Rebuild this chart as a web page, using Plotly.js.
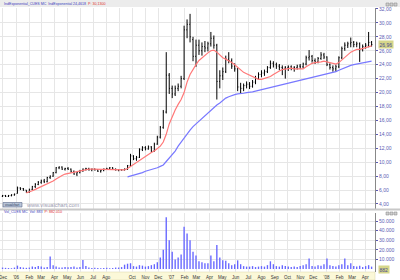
<!DOCTYPE html>
<html><head><meta charset="utf-8">
<script src="https://cdn.plot.ly/plotly-3.0.1.min.js"></script>
<style>html,body{margin:0;padding:0;background:#fff}#chart{width:400px;height:280px}</style>
</head><body><div id="chart"></div>
<script>
// weekly bars, first week centred on this date
const firstWeek = '2005-11-30';
const weekCount = 125;

const priceOpen = [5.1,5.2,5.1,5.2,5.3,5.5,6.3,6.2,6.0,5.7,
 6.1,6.5,6.8,7.1,7.3,7.2,7.8,8.0,8.5,9.2,
 9.3,9.0,9.1,9.0,8.7,8.3,8.5,8.8,9.0,9.1,
 8.9,9.0,8.9,8.7,8.8,9.0,9.1,9.2,9.0,8.9,
 8.9,8.9,9.0,9.5,10.9,10.5,10.7,11.8,12.1,11.9,
 12.2,11.6,12.6,13.6,15.0,17.2,22.5,20.6,19.8,20.6,
 20.9,22.0,29.0,29.8,27.6,25.2,26.8,26.0,26.6,26.4,
 27.0,27.8,26.8,21.6,22.4,23.0,24.8,24.6,23.8,23.4,
 20.8,20.6,21.0,21.2,20.9,21.5,22.0,22.6,22.8,23.0,
 23.6,24.2,24.0,23.8,23.6,23.5,23.6,23.7,23.5,23.6,
 23.8,23.7,24.1,25.0,25.2,24.6,24.4,24.9,25.4,25.1,
 24.0,23.6,23.4,23.7,25.0,26.3,26.8,27.0,27.2,26.9,
 27.0,26.2,26.6,26.8,27.2];
const priceHigh = [5.3,5.3,5.3,5.4,5.5,6.5,6.4,6.3,6.0,6.2,
 6.6,7.0,7.3,7.5,7.6,7.9,8.1,8.6,9.3,9.4,
 9.4,9.2,9.3,9.1,8.8,8.6,8.9,9.1,9.2,9.2,
 9.1,9.1,9.0,8.9,9.1,9.2,9.3,9.3,9.1,9.0,
 9.0,9.1,9.6,11.2,11.0,10.9,12.0,12.3,12.3,12.4,
 12.3,12.8,13.8,15.2,17.5,25.8,22.8,21.0,21.0,21.3,
 22.4,29.6,30.5,31.3,28.0,27.6,27.6,27.2,27.4,27.3,
 28.7,28.2,27.0,23.2,23.6,25.3,25.8,24.9,24.2,23.5,
 21.4,21.3,21.6,21.5,21.8,22.4,22.9,23.2,23.3,23.8,
 24.6,24.5,24.3,24.1,23.9,23.8,23.9,23.9,23.8,24.0,
 24.1,24.3,25.3,26.1,25.4,24.9,25.1,25.8,25.7,25.2,
 24.2,23.9,24.0,25.2,26.6,27.2,27.3,27.9,27.4,27.3,
 27.2,26.9,27.1,28.7,27.4];
const priceLow = [5.0,5.0,5.0,5.1,5.2,5.5,6.0,5.9,5.6,5.6,
 6.0,6.3,6.7,6.9,7.0,7.1,7.6,7.9,8.4,9.0,
 8.9,8.8,8.9,8.5,8.2,8.0,8.4,8.6,8.8,8.8,
 8.7,8.8,8.6,8.5,8.7,8.9,9.0,8.9,8.8,8.7,
 8.8,8.8,8.9,9.4,10.3,10.2,10.6,11.6,11.7,11.8,
 11.4,11.5,12.5,13.4,14.8,17.0,19.8,19.2,19.5,20.2,
 20.6,21.8,27.8,27.2,24.5,23.7,25.4,25.3,25.8,25.9,
 26.6,26.3,19.0,20.6,21.8,22.8,24.2,23.4,23.0,20.2,
 19.8,20.2,20.6,20.5,20.7,21.2,21.8,22.2,22.4,22.8,
 23.4,23.6,23.4,23.2,22.5,22.0,23.1,23.2,23.0,23.3,
 23.4,23.5,23.9,24.6,24.3,24.1,24.2,24.7,24.8,23.8,
 23.3,23.0,23.0,23.5,24.8,26.0,26.4,26.5,26.5,26.5,
 24.4,25.9,26.3,26.5,26.6];
const priceClose = [5.2,5.1,5.2,5.3,5.4,6.3,6.2,6.0,5.7,6.1,
 6.5,6.8,7.1,7.3,7.2,7.8,8.0,8.5,9.2,9.3,
 9.0,9.1,9.0,8.7,8.3,8.5,8.8,9.0,9.1,8.9,
 9.0,8.9,8.7,8.8,9.0,9.1,9.2,9.0,8.9,8.9,
 8.9,9.0,9.5,10.9,10.5,10.7,11.8,12.1,11.9,12.2,
 11.6,12.6,13.6,15.0,17.2,22.5,20.6,19.8,20.6,20.9,
 22.0,29.0,29.8,28.0,25.2,26.8,26.0,26.6,26.4,27.0,
 27.8,26.8,21.6,22.4,23.0,24.8,24.6,23.8,23.4,20.8,
 20.6,21.0,21.2,20.9,21.5,22.0,22.6,22.8,23.0,23.6,
 24.2,24.0,23.8,23.6,23.5,23.6,23.7,23.5,23.6,23.8,
 23.7,24.1,25.0,25.2,24.6,24.4,24.9,25.4,25.1,24.0,
 23.6,23.4,23.7,25.0,26.3,26.8,27.0,27.2,26.9,27.0,
 26.2,26.6,26.8,27.2,26.9];

// fast exponential average (red), starts at week 8
const redStart = 8;
const redEma = [5.6,5.7,5.9,6.1,6.3,6.5,6.7,6.9,7.0,7.3,
 7.6,7.9,8.1,8.3,8.4,8.5,8.6,8.6,8.7,8.8,
 8.9,9.0,9.0,9.0,9.0,9.0,8.9,8.9,8.9,8.9,
 8.9,8.9,8.9,8.9,9.1,9.4,9.7,10.0,10.3,10.6,
 10.9,11.1,11.4,11.6,11.9,12.3,12.9,14.0,15.5,16.6,
 17.5,18.3,19.0,20.0,21.5,22.6,23.4,24.0,24.6,25.0,
 25.4,25.7,26.0,26.1,25.8,25.4,25.0,24.8,24.6,24.3,
 24.0,23.6,23.2,22.9,22.7,22.5,22.2,22.0,21.9,21.9,
 22.0,22.1,22.3,22.6,22.9,23.1,23.3,23.4,23.5,23.5,
 23.4,23.4,23.4,23.4,23.7,24.0,24.2,24.3,24.3,24.4,
 24.5,24.4,24.2,24.1,24.1,24.3,24.7,25.1,25.5,25.8,
 26.0,26.2,26.2,26.3,26.4,26.6,26.7];

// slow exponential average (blue), starts at week 42
const blueStart = 42;
const blueEma = [7.9,8.0,8.1,8.3,8.4,8.5,8.7,8.8,8.9,9.1,
 9.2,9.4,9.6,10.1,10.6,11.1,11.6,12.3,12.9,13.4,
 14.0,14.6,15.1,15.5,15.8,16.3,16.7,17.1,17.5,17.9,
 18.2,18.5,18.9,19.2,19.4,19.6,19.7,19.8,19.8,19.9,
 20.0,20.0,20.1,20.2,20.3,20.4,20.5,20.6,20.7,20.8,
 20.9,21.0,21.1,21.2,21.3,21.4,21.5,21.6,21.7,21.8,
 21.9,22.0,22.1,22.2,22.3,22.4,22.5,22.6,22.7,22.8,
 23.0,23.2,23.4,23.6,23.8,23.9,24.0,24.1,24.2,24.3,
 24.3,24.4,24.5];

const volume = [1500,1200,1000,800,1500,3500,2000,1500,1200,1500,
 2500,2000,3000,2500,1500,2000,13000,4000,2500,1500,
 1500,2000,1800,2000,2500,1500,2000,9500,3000,1500,
 1000,1200,1000,800,1000,1200,800,1000,1500,1500,
 2000,4500,5500,6000,3000,2500,4000,3500,2500,3000,
 4000,5000,7000,12000,20000,54000,30000,18000,10000,12000,
 15000,44000,37000,30000,18000,14000,8000,7000,6000,6000,
 14000,8000,25000,12000,9000,8700,6000,4000,5000,9000,
 5000,3000,2500,2500,3000,2000,2500,3000,2500,4000,
 8000,5000,3000,2500,4000,3000,2500,2000,2500,2000,
 3000,4000,5000,11000,3000,2500,4000,3500,5000,11000,
 4000,3000,2500,4000,5000,11000,4000,6000,3000,2500,
 3500,2000,3000,4000,2500];

const priceTicks = [4,6,8,10,12,14,16,18,20,22,24,26,28,30,32];
const priceTickText = ['4,00','6,00','8,00','10,00','12,00','14,00','16,00','18,00','20,00','22,00','24,00','26,00','28,00','30,00','32,00'];
const volTicks = [10000,20000,30000,40000,50000];
const volTickText = ['10.000','20.000','30.000','40.000','50.000'];
const monthTicks = ['2005-12-01','2006-01-01','2006-02-01','2006-03-01','2006-04-01','2006-05-01','2006-06-01','2006-07-01','2006-08-01','2006-09-01','2006-10-01','2006-11-01','2006-12-01',
 '2007-01-01','2007-02-01','2007-03-01','2007-04-01','2007-05-01','2007-06-01','2007-07-01','2007-08-01','2007-09-01','2007-10-01','2007-11-01','2007-12-01',
 '2008-01-01','2008-02-01','2008-03-01','2008-04-01'];
const monthText = ['Dec',"'06",'Feb','Mar','Apr','May','Jun','Jul','Ago','','Oct','Nov','Dec',
 "'07",'Feb','Mar','Apr','May','Jun','Jul','Ago','Sep','Oct','Nov','Dec',
 "'08",'Feb','Mar','Apr'];

const lastPriceLabel = '26,96';
const lastPrice = 26.96;
const lastVolLabel = '882';
const priceTitle = 'IndExponential_CUES MC  IndExponential 24,4618';
const priceTitleP = 'P: 30,1300';
const volTitle = 'Vol_CUES MC  Vol: 883';
const volTitleP = 'P: 882.010';

// build week dates (category positions)
const weeks = [];
{
  const d0 = new Date(firstWeek + 'T00:00:00Z');
  for (let i = 0; i < weekCount; i++) {
    const d = new Date(d0.getTime() + i * 7 * 86400000);
    weeks.push(d.toISOString().slice(0, 10));
  }
}

const traces = [
  {type:'bar', x:weeks, y:volume, xaxis:'x', yaxis:'y2',
   marker:{color:'#6666ff', line:{width:0}}, width:3.2*86400000, hoverinfo:'skip'},
  {type:'scatter', mode:'lines', x:weeks.slice(blueStart), y:blueEma, xaxis:'x', yaxis:'y',
   line:{color:'#7878ff', width:1.2}, hoverinfo:'skip'},
  {type:'scatter', mode:'lines', x:weeks.slice(redStart), y:redEma, xaxis:'x', yaxis:'y',
   line:{color:'#ff7878', width:1.2}, hoverinfo:'skip'},
  {type:'ohlc', x:weeks, open:priceOpen, high:priceHigh, low:priceLow, close:priceClose,
   xaxis:'x', yaxis:'y',
   increasing:{line:{color:'#000000', width:1}},
   decreasing:{line:{color:'#000000', width:1}},
   tickwidth:0.25, hoverinfo:'skip'}
];

const H = 264; // plot height in px
const py = p => (272 - p) / H;   // pixel row -> paper y
const px = p => p / 375;         // pixel col -> paper x

const tickFont = {family:'Liberation Sans, Arial, sans-serif', size:5, color:'#5a5ab4'};

const layout = {
  width:400, height:280,
  margin:{l:0, r:25, t:8, b:8, pad:0},
  paper_bgcolor:'#ffffff', plot_bgcolor:'#ffffff',
  showlegend:false,
  xaxis:{type:'date', range:['2005-11-24','2008-04-24'], anchor:'y2',
    tickmode:'array', tickvals:monthTicks, ticktext:monthText,
    showgrid:true, gridcolor:'#e6e6e6', gridwidth:1,
    ticks:'', tickfont:{family:'Liberation Sans, Arial, sans-serif', size:4.5, color:'#333333'},
    ticklabelstandoff:1, ticklabeloverflow:'allow',
    rangeslider:{visible:false}, showline:false, zeroline:false, fixedrange:true},
  yaxis:{domain:[py(209), 1], range:[3.28, 32.14], side:'right', anchor:'x',
    tickmode:'array', tickvals:priceTicks, ticktext:priceTickText,
    showgrid:true, gridcolor:'#e6e6e6', gridwidth:1, zeroline:false,
    ticks:'outside', ticklen:2, tickcolor:'#5a5ab4', tickfont:tickFont,
    showline:true, linecolor:'#888888', linewidth:1},
  yaxis2:{domain:[0, py(213)], range:[-3125, 58333], side:'right', anchor:'x',
    tickmode:'array', tickvals:volTicks, ticktext:volTickText,
    showgrid:true, gridcolor:'#e6e6e6', gridwidth:1, zeroline:false,
    ticks:'outside', ticklen:2, tickcolor:'#5a5ab4', tickfont:tickFont,
    showline:true, linecolor:'#888888', linewidth:1},
  bargap:0.3,
  shapes:[
    {type:'rect', xref:'paper', yref:'paper', x0:0, x1:px(400), y0:py(7), y1:py(0), fillcolor:'#ececec', line:{width:0}, layer:'below'},
    {type:'rect', xref:'paper', yref:'paper', x0:0, x1:px(400), y0:py(210.5), y1:py(208.5), fillcolor:'#c8c8c8', line:{width:0}},
    {type:'rect', xref:'paper', yref:'paper', x0:0, x1:1, y0:py(280), y1:py(272), fillcolor:'#fbf8d8', line:{color:'#d8d4a8', width:0.5}, layer:'below'},
    {type:'rect', xref:'paper', yref:'paper', x0:px(386), x1:px(389), y0:py(6), y1:py(3), fillcolor:'#d0d0d0', line:{color:'#808080', width:0.5}},
    {type:'rect', xref:'paper', yref:'paper', x0:px(390), x1:px(393), y0:py(6), y1:py(3), fillcolor:'#d0d0d0', line:{color:'#808080', width:0.5}},
    {type:'rect', xref:'paper', yref:'paper', x0:px(394), x1:px(397), y0:py(6), y1:py(3), fillcolor:'#d0d0d0', line:{color:'#808080', width:0.5}},
    {type:'rect', xref:'paper', yref:'paper', x0:px(386), x1:px(389), y0:py(215), y1:py(212), fillcolor:'#d0d0d0', line:{color:'#808080', width:0.5}},
    {type:'rect', xref:'paper', yref:'paper', x0:px(390), x1:px(393), y0:py(215), y1:py(212), fillcolor:'#d0d0d0', line:{color:'#808080', width:0.5}},
    {type:'rect', xref:'paper', yref:'paper', x0:px(394), x1:px(397), y0:py(215), y1:py(212), fillcolor:'#d0d0d0', line:{color:'#808080', width:0.5}},
    {type:'rect', xref:'paper', yref:'paper', x0:px(3), x1:px(22), y0:py(207), y1:py(202.5), fillcolor:'#b8c4d8', line:{color:'#5a6a8a', width:0.6}}
  ],
  annotations:[
    {xref:'paper', yref:'paper', x:px(2), y:py(3.8), xanchor:'left', yanchor:'middle', showarrow:false,
     text:priceTitle + '  <span style="color:#e03030">' + priceTitleP + '</span>',
     font:{family:'Liberation Sans, Arial, sans-serif', size:3.6, color:'#4040c0'}},
    {xref:'paper', yref:'paper', x:px(2), y:py(212), xanchor:'left', yanchor:'middle', showarrow:false,
     text:volTitle + '  <span style="color:#e03030">' + volTitleP + '</span>',
     font:{family:'Liberation Sans, Arial, sans-serif', size:3.6, color:'#4040c0'}},
    {xref:'paper', yref:'paper', x:px(24), y:py(204.8), xanchor:'left', yanchor:'middle', showarrow:false,
     text:'www.visualchart.com', font:{family:'Liberation Sans, Arial, sans-serif', size:5.6, color:'#9a9ab0'}},
    {xref:'paper', yref:'paper', x:px(12.5), y:py(204.8), xanchor:'center', yanchor:'middle', showarrow:false,
     text:'visualchart', font:{family:'Liberation Sans, Arial, sans-serif', size:3, color:'#2a3a5a'}},
    {xref:'paper', yref:'y', x:1, y:lastPrice, xanchor:'left', yanchor:'middle', xshift:3, showarrow:false,
     text:lastPriceLabel, bgcolor:'#d6d68a', borderpad:0.5,
     font:{family:'Liberation Sans, Arial, sans-serif', size:5, color:'#4a4a90'}},
    {xref:'paper', yref:'y2', x:1, y:0, xanchor:'left', yanchor:'middle', xshift:3, showarrow:false,
     text:lastVolLabel, bgcolor:'#d6d68a', borderpad:0.5,
     font:{family:'Liberation Sans, Arial, sans-serif', size:5, color:'#4a4a90'}}
  ]
};

Plotly.newPlot('chart', traces, layout, {staticPlot:true, displayModeBar:false});
</script>
</body></html>
